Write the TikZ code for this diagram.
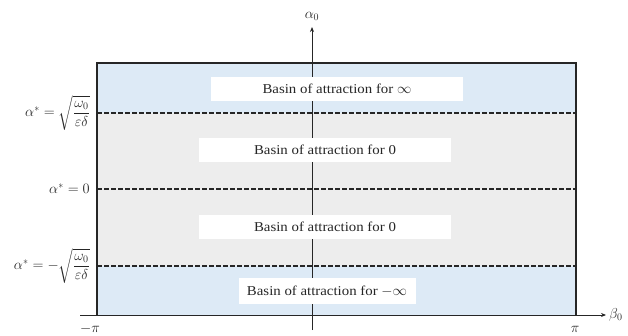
\documentclass[tikz,border=0pt]{standalone}
\usepackage{amsmath}
\usepackage{fontspec}
\setmainfont{Liberation Serif}[FakeStretch=1.1]
\usetikzlibrary{arrows.meta}
\definecolor{basinblue}{HTML}{DDEAF6}
\definecolor{basingray}{HTML}{EDEDED}
\definecolor{ink}{HTML}{262626}
\begin{document}
\begin{tikzpicture}[x=1pt,y=-1pt,
  basin/.style={fill=white, inner sep=0pt, minimum height=24pt, text=ink, font=\fontsize{13.5}{15}\selectfont},
  lbl/.style={anchor=east, inner sep=0pt, text=ink, font=\fontsize{14}{16}\selectfont},
  axlbl/.style={inner sep=0pt, text=ink, font=\fontsize{14}{16}\selectfont},
  dline/.style={dash pattern=on 4.5pt off 2.5pt, line width=1.2pt, draw=ink},
  ax/.style={line width=0.9pt, draw=ink, -{Stealth[length=5pt,width=4pt]}},
  frame/.style={line width=1.3pt, draw=ink}]
\useasboundingbox (0,0) rectangle (628,336);
% regions
\fill[basinblue] (97,63) rectangle (576,113);
\fill[basingray] (97,113) rectangle (576,266);
\fill[basinblue] (97,266) rectangle (576,315);
% axes coordinates
\coordinate (vb) at (312,330);
\coordinate (vt) at (312,27);
\coordinate (hl) at (80,315);
\coordinate (hr) at (606,315);
\draw[ax] (vb) -- (vt);
\draw[ax] (hl) -- (hr);
% dashed lines
\coordinate (d1l) at (97,113); \coordinate (d1r) at (576,113);
\coordinate (d2l) at (97,189); \coordinate (d2r) at (576,189);
\coordinate (d3l) at (97,266); \coordinate (d3r) at (576,266);
\draw[dline] (d1l) -- (d1r);
\draw[dline] (d2l) -- (d2r);
\draw[dline] (d3l) -- (d3r);
% frame
\coordinate (fbl) at (97,315); \coordinate (ftl) at (97,63);
\coordinate (ftr) at (576,63); \coordinate (fbr) at (576,315);
\draw[frame] (fbl) -- (ftl) -- (ftr) -- (fbr);
% basin labels
\node[basin, minimum width=252pt] (b1) at (337,89) {Basin of attraction for $\infty$};
\node[basin, minimum width=252pt] (b2) at (325,150) {Basin of attraction for 0};
\node[basin, minimum width=252pt] (b3) at (325,227) {Basin of attraction for 0};
\node[basin, minimum width=177pt, minimum height=26pt] (b4) at (327,291) {Basin of attraction for $-\infty$};
% left labels
\node[lbl] (l1) at (90,113) {$\alpha^{*}=\sqrt{\dfrac{\omega_0}{\varepsilon\delta}}$};
\node[lbl] (l2) at (90,189) {$\alpha^{*}=0$};
\node[lbl] (l3) at (90,266) {$\alpha^{*}=-\sqrt{\dfrac{\omega_0}{\varepsilon\delta}}$};
% axis labels
\node[axlbl] (a0) at (312,16) {$\alpha_0$};
\node[axlbl, anchor=west] (b0) at (609,315) {$\beta_0$};
\node[axlbl] (mpi) at (90,329) {$-\pi$};
\node[axlbl] (ppi) at (575,329) {$\pi$};
\end{tikzpicture}
\end{document}
